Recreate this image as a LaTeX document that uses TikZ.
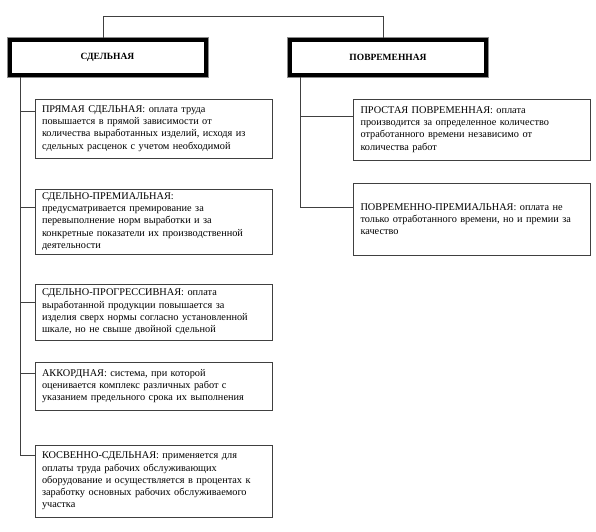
\documentclass[tikz,border=0pt]{standalone}
\usepackage{fontspec}
\setmainfont{Liberation Serif}
\usepackage{xcolor}
\definecolor{DarkGray}{HTML}{404040}
\definecolor{MidGray}{HTML}{8C8C8C}
\usetikzlibrary{positioning,calc}
\tikzset{
  encab/.style = {draw=black, line width=4pt, preaction={draw=MidGray, line width=6pt},
                  fill=white, minimum width=196pt, minimum height=35pt,
                  font=\fontsize{9.5}{11}\selectfont\bfseries, inner sep=0pt},
  tipo/.style  = {draw=DarkGray, line width=1pt, fill=white, align=left,
                  text width=223pt, inner xsep=7pt, inner ysep=2pt,
                  minimum width=237pt,
                  font=\fontsize{10.3}{12.3}\selectfont},
  linea/.style = {draw=DarkGray, line width=0.9pt},
}
\begin{document}
\begin{tikzpicture}[x=1pt,y=-1pt]
  \useasboundingbox (0,0) rectangle (596,531);
  % encabezados
  \node[encab] (sd) at (107.5,57.5) {СДЕЛЬНАЯ};
  \node[encab] (pv) at (388,57.5) {ПОВРЕМЕННАЯ};
  \draw[linea] ([xshift=-4.5pt]sd.north) -- ++(0,-22) -| ([xshift=-5pt]pv.north);
  % sdelnaya
  \node[tipo, minimum height=59pt] (b1) at (153.5,128.5)
    {ПРЯМАЯ СДЕЛЬНАЯ: оплата труда\\повышается в прямой зависимости от\\количества выработанных  изделий, исходя из\\сдельных расценок с учетом необходимой};
  \node[tipo, minimum height=65pt] (b2) at (153.5,221.5)
    {СДЕЛЬНО-ПРЕМИАЛЬНАЯ:\\предусматривается премирование за\\перевыполнение норм выработки и за\\конкретные показатели их производственной\\деятельности};
  \node[tipo, minimum height=56pt] (b3) at (153.5,312)
    {СДЕЛЬНО-ПРОГРЕССИВНАЯ: оплата\\выработанной продукции повышается за\\изделия сверх нормы согласно установленной\\шкале, но не свыше двойной сдельной};
  \node[tipo, minimum height=48pt] (b4) at (153.5,386)
    {АККОРДНАЯ: система, при которой\\оценивается комплекс различных работ с\\указанием предельного срока их выполнения};
  \node[tipo, minimum height=72pt] (b5) at (153.5,481)
    {КОСВЕННО-СДЕЛЬНАЯ: применяется для\\оплаты труда рабочих обслуживающих\\оборудование  и осуществляется в процентах к\\заработку основных рабочих обслуживаемого\\участка};
  % povremennaya
  \node[tipo, minimum height=61pt] (r1) at (472,129.5)
    {ПРОСТАЯ ПОВРЕМЕННАЯ: оплата\\производится за определенное количество\\отработанного времени независимо от\\количества работ};
  \node[tipo, minimum height=72pt] (r2) at (472,219)
    {ПОВРЕМЕННО-ПРЕМИАЛЬНАЯ: оплата не\\только отработанного времени, но и премии за\\качество};
  % uzly
  \coordinate (j1) at (20,111);
  \coordinate (j2) at (20,207);
  \coordinate (j3) at (20,302);
  \coordinate (j4) at (20,373);
  \coordinate (j5) at (20,455);
  \coordinate (k1) at (300,116);
  \coordinate (k2) at (300,207);
  \draw[linea] (sd.south -| j1) -- (j5) -- (j5 -| b5.west);
  \foreach \j/\b in {j1/b1,j2/b2,j3/b3,j4/b4}
    \draw[linea] (\j) -- (\j -| \b.west);
  \draw[linea] (pv.south -| k1) -- (k2) -- (k2 -| r2.west);
  \draw[linea] (k1) -- (k1 -| r1.west);
\end{tikzpicture}
\end{document}
